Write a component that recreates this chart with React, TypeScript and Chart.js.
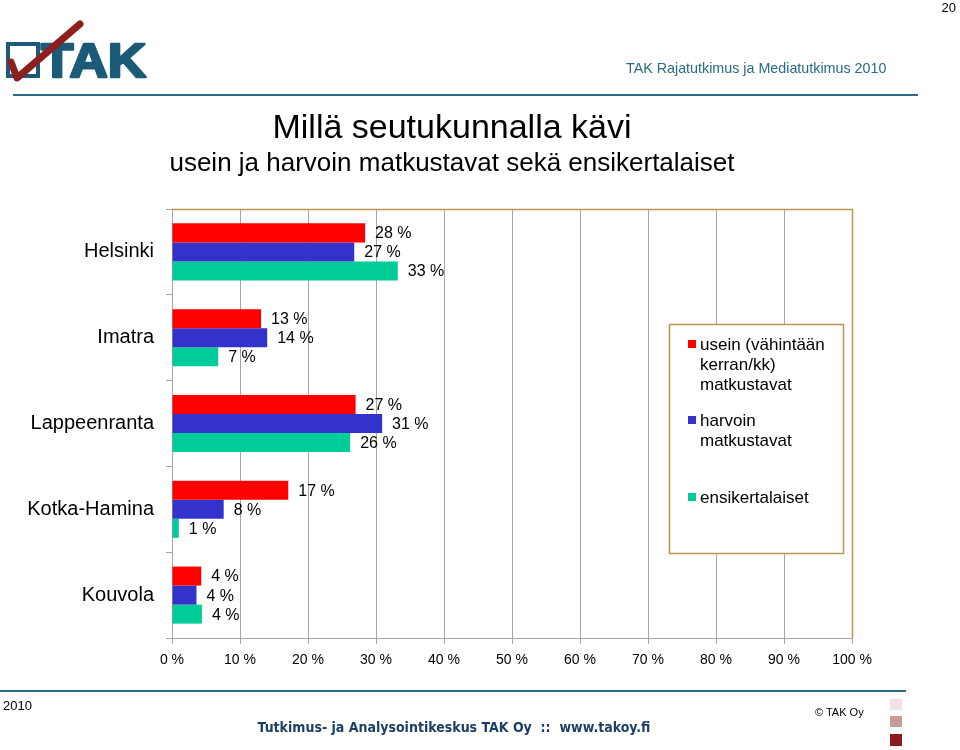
import React, { useEffect, useRef } from "react";
import { Chart, registerables } from "chart.js";

Chart.register(...registerables);

const categories = ["Helsinki", "Imatra", "Lappeenranta", "Kotka-Hamina", "Kouvola"];
const useinValues = [28.4, 13.1, 27.0, 17.1, 4.3];
const harvoinValues = [26.8, 14.0, 30.9, 7.6, 3.6];
const ensiValues = [33.2, 6.8, 26.2, 1.0, 4.4];
const seriesLabels = [
  ["usein (vähintään", "kerran/kk)", "matkustavat"],
  ["harvoin", "matkustavat"],
  ["ensikertalaiset"],
];
const seriesColors = ["#ff0000", "#3333cc", "#00cc99"];

const FONT = "'Liberation Sans', Arial, Helvetica, sans-serif";
const FRAME = "#b8974f";
const GRID = "#a6a6a6";

const valueLabels = {
  id: "valueLabels",
  afterDatasetsDraw(chart: any) {
    const ctx = chart.ctx;
    ctx.save();
    ctx.font = `16px ${FONT}`;
    ctx.fillStyle = "#000";
    ctx.textAlign = "left";
    ctx.textBaseline = "middle";
    chart.data.datasets.forEach((ds: any, i: number) => {
      const meta = chart.getDatasetMeta(i);
      meta.data.forEach((bar: any, j: number) => {
        ctx.fillText(`${Math.round(ds.data[j])} %`, bar.x + 10, bar.y + 1);
      });
    });
    ctx.restore();
  },
};

const frameAndLegend = {
  id: "frameAndLegend",
  afterDraw(chart: any) {
    const ctx = chart.ctx;
    const a = chart.chartArea;
    ctx.save();
    ctx.strokeStyle = FRAME;
    ctx.lineWidth = 1.5;
    ctx.beginPath();
    ctx.moveTo(a.left, a.top + 0.5);
    ctx.lineTo(a.right + 0.5, a.top + 0.5);
    ctx.lineTo(a.right + 0.5, a.bottom);
    ctx.stroke();

    const lx = 669, ly = 324, lw = 174, lh = 229;
    ctx.fillStyle = "#fff";
    ctx.fillRect(lx, ly, lw, lh);
    ctx.strokeStyle = FRAME;
    ctx.lineWidth = 1.5;
    ctx.strokeRect(lx + 0.5, ly + 0.5, lw, lh);

    const itemY = [344, 420, 497];
    ctx.font = `17px ${FONT}`;
    ctx.textAlign = "left";
    ctx.textBaseline = "middle";
    seriesLabels.forEach((lines, i) => {
      ctx.fillStyle = seriesColors[i];
      ctx.fillRect(688, itemY[i] - 4, 8, 8);
      ctx.fillStyle = "#000";
      lines.forEach((t, k) => ctx.fillText(t, 700, itemY[i] + 1 + k * 20));
    });
    ctx.restore();
  },
};

function Logo() {
  return (
    <svg width="160" height="90" style={{ position: "absolute", left: 0, top: 0 }}>
      <rect x="8" y="44" width="30" height="32" fill="#fff" stroke="#1d5a78" strokeWidth="4" />
      <text x="41" y="77" fontFamily={FONT} fontWeight="bold" fontSize="48" fill="#1d5a78" stroke="#1d5a78" strokeWidth="2.5" strokeLinejoin="round" textLength="105" lengthAdjust="spacingAndGlyphs">TAK</text>
      <path d="M11 62 L17 78 L80 24" fill="none" stroke="#8e1f1f" strokeWidth="7" strokeLinecap="round" strokeLinejoin="round" />
    </svg>
  );
}

export default function App() {
  const canvasRef = useRef<HTMLCanvasElement | null>(null);

  useEffect(() => {
    if (!canvasRef.current) return;
    const chart = new Chart(canvasRef.current, {
      type: "bar",
      data: {
        labels: categories,
        datasets: [
          { label: seriesLabels[0].join(" "), data: useinValues, backgroundColor: seriesColors[0] },
          { label: seriesLabels[1].join(" "), data: harvoinValues, backgroundColor: seriesColors[1] },
          { label: seriesLabels[2].join(" "), data: ensiValues, backgroundColor: seriesColors[2] },
        ].map((d) => ({ ...d, categoryPercentage: 0.665, barPercentage: 1.0, borderWidth: 0 })),
      },
      options: {
        indexAxis: "y",
        animation: false,
        responsive: false,
        devicePixelRatio: 1,
        layout: { padding: { left: 0, top: 209, right: 108, bottom: 72 } },
        plugins: { legend: { display: false }, tooltip: { enabled: false } },
        scales: {
          x: {
            min: 0,
            max: 100,
            ticks: {
              stepSize: 10,
              callback: (v: any) => `${v} %`,
              font: { family: FONT, size: 14 },
              color: "#000",
              padding: 8,
              maxRotation: 0,
            },
            grid: { color: GRID, lineWidth: 1, tickLength: 6 },
            border: { color: GRID, width: 1 },
            afterFit: (s: any) => { s.height = 40; },
          },
          y: {
            ticks: { font: { family: FONT, size: 20 }, color: "#000", padding: 12 },
            grid: { drawOnChartArea: false, color: GRID, tickLength: 6, offset: true },
            border: { color: GRID, width: 1 },
            afterFit: (s: any) => { s.width = 172; },
          },
        },
      } as any,
      plugins: [valueLabels, frameAndLegend],
    });
    return () => chart.destroy();
  }, []);

  return (
    <div style={{ position: "absolute", left: 0, top: 0, width: 960, height: 750, background: "#fff", fontFamily: FONT, overflow: "hidden" }}>
      <canvas ref={canvasRef} width={960} height={750} style={{ position: "absolute", left: 0, top: 0 }} />
      <Logo />
      <div style={{ position: "absolute", right: 4, top: 0, fontSize: 13, color: "#000" }}>20</div>
      <div style={{ position: "absolute", left: 626, top: 60, fontSize: 14.3, color: "#2a6a86", whiteSpace: "nowrap" }}>
        TAK Rajatutkimus ja Mediatutkimus 2010
      </div>
      <div style={{ position: "absolute", left: 13, top: 94, width: 905, height: 2, background: "#2a6a86" }} />
      <div style={{ position: "absolute", left: 0, width: 904, top: 107, textAlign: "center", fontSize: 34, color: "#000", whiteSpace: "nowrap" }}>
        Millä seutukunnalla kävi
      </div>
      <div style={{ position: "absolute", left: 0, width: 904, top: 147, textAlign: "center", fontSize: 26, color: "#000", whiteSpace: "nowrap" }}>
        usein ja harvoin matkustavat sekä ensikertalaiset
      </div>
      <div style={{ position: "absolute", left: 0, top: 690, width: 906, height: 2, background: "#2a6a86" }} />
      <div style={{ position: "absolute", left: 3, top: 698, fontSize: 13, color: "#000" }}>2010</div>
      <div style={{ position: "absolute", left: 815, top: 706, fontSize: 11, color: "#000", whiteSpace: "nowrap" }}>© TAK Oy</div>
      <div style={{ position: "absolute", left: 0, width: 908, top: 719, textAlign: "center", fontSize: 14, fontWeight: "bold", color: "#1c3f68", whiteSpace: "pre", fontFamily: "'Liberation Sans Narrow', 'DejaVu Sans Condensed', Arial, sans-serif" }}>
        {"Tutkimus- ja Analysointikeskus TAK Oy  ::  www.takoy.fi"}
      </div>
      <div style={{ position: "absolute", left: 890, top: 699, width: 12, height: 11, background: "#f1e1e1" }} />
      <div style={{ position: "absolute", left: 890, top: 716, width: 12, height: 11, background: "#c99a9a" }} />
      <div style={{ position: "absolute", left: 890, top: 734, width: 12, height: 12, background: "#8e1c1c" }} />
    </div>
  );
}
